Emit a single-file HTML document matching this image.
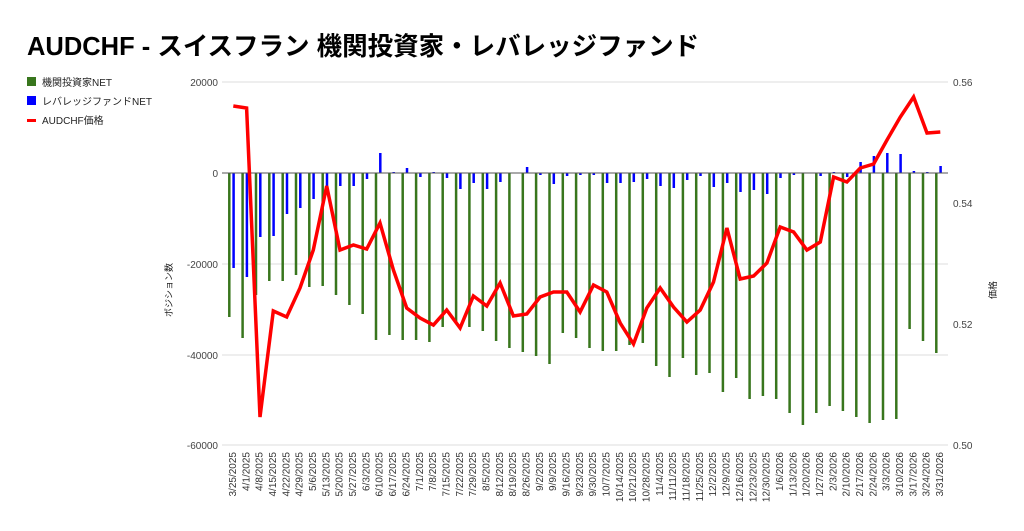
<!DOCTYPE html>
<html><head><meta charset="utf-8"><style>
body{margin:0;background:#fff;width:1024px;height:526px;overflow:hidden}
svg{font-family:"Liberation Sans","Noto Sans CJK JP",sans-serif}
</style></head><body>
<svg width="1024" height="526" xmlns="http://www.w3.org/2000/svg">
<text x="27" y="55" font-size="25.5" font-weight="bold" fill="#000">AUDCHF - スイスフラン 機関投資家・レバレッジファンド</text>
<rect x="27" y="77" width="9" height="9" fill="#38761d"/><text x="42" y="86" font-size="10" fill="#222">機関投資家NET</text>
<rect x="27" y="96" width="9" height="9" fill="#0000ff"/><text x="42" y="105" font-size="10" fill="#222">レバレッジファンドNET</text>
<rect x="27" y="119" width="9" height="3" fill="#ff0000"/><text x="42" y="124" font-size="10" fill="#222">AUDCHF価格</text>
<g stroke="#ddd" stroke-width="1">
<line x1="222" y1="82" x2="948" y2="82"/><line x1="222" y1="264" x2="948" y2="264"/><line x1="222" y1="355" x2="948" y2="355"/><line x1="222" y1="445" x2="948" y2="445"/>
</g>
<g font-size="10" fill="#444" text-anchor="end">
<text x="218" y="86">20000</text><text x="218" y="177">0</text><text x="218" y="268">-20000</text><text x="218" y="359">-40000</text><text x="218" y="449">-60000</text>
</g>
<g font-size="10" fill="#444">
<text x="953" y="86">0.56</text><text x="953" y="207">0.54</text><text x="953" y="328">0.52</text><text x="953" y="449">0.50</text>
</g>
<text transform="translate(172,290) rotate(-90)" font-size="9" fill="#222" text-anchor="middle">ポジション数</text>
<text transform="translate(996,290) rotate(-90)" font-size="9" fill="#222" text-anchor="middle">価格</text>
<g stroke="#38761d" stroke-width="2.5">
<line x1="229.3" y1="173" x2="229.3" y2="317"/><line x1="242.6" y1="173" x2="242.6" y2="338"/><line x1="256.0" y1="173" x2="256.0" y2="295"/><line x1="269.3" y1="173" x2="269.3" y2="281"/><line x1="282.7" y1="173" x2="282.7" y2="281"/><line x1="296.0" y1="173" x2="296.0" y2="275"/><line x1="309.3" y1="173" x2="309.3" y2="287"/><line x1="322.7" y1="173" x2="322.7" y2="286"/><line x1="336.0" y1="173" x2="336.0" y2="295"/><line x1="349.4" y1="173" x2="349.4" y2="305"/><line x1="362.7" y1="173" x2="362.7" y2="314"/><line x1="376.0" y1="173" x2="376.0" y2="340"/><line x1="389.4" y1="173" x2="389.4" y2="335"/><line x1="402.7" y1="173" x2="402.7" y2="340"/><line x1="416.1" y1="173" x2="416.1" y2="340"/><line x1="429.4" y1="173" x2="429.4" y2="342"/><line x1="442.7" y1="173" x2="442.7" y2="327"/><line x1="456.1" y1="173" x2="456.1" y2="323"/><line x1="469.4" y1="173" x2="469.4" y2="327"/><line x1="482.8" y1="173" x2="482.8" y2="331"/><line x1="496.1" y1="173" x2="496.1" y2="341"/><line x1="509.4" y1="173" x2="509.4" y2="348"/><line x1="522.8" y1="173" x2="522.8" y2="352"/><line x1="536.1" y1="173" x2="536.1" y2="356"/><line x1="549.5" y1="173" x2="549.5" y2="364"/><line x1="562.8" y1="173" x2="562.8" y2="333"/><line x1="576.1" y1="173" x2="576.1" y2="338"/><line x1="589.5" y1="173" x2="589.5" y2="348"/><line x1="602.8" y1="173" x2="602.8" y2="351"/><line x1="616.2" y1="173" x2="616.2" y2="351"/><line x1="629.5" y1="173" x2="629.5" y2="345"/><line x1="642.8" y1="173" x2="642.8" y2="343"/><line x1="656.2" y1="173" x2="656.2" y2="366"/><line x1="669.5" y1="173" x2="669.5" y2="377"/><line x1="682.9" y1="173" x2="682.9" y2="358"/><line x1="696.2" y1="173" x2="696.2" y2="375"/><line x1="709.5" y1="173" x2="709.5" y2="373"/><line x1="722.9" y1="173" x2="722.9" y2="392"/><line x1="736.2" y1="173" x2="736.2" y2="378"/><line x1="749.6" y1="173" x2="749.6" y2="399"/><line x1="762.9" y1="173" x2="762.9" y2="396"/><line x1="776.2" y1="173" x2="776.2" y2="399"/><line x1="789.6" y1="173" x2="789.6" y2="413"/><line x1="802.9" y1="173" x2="802.9" y2="425"/><line x1="816.3" y1="173" x2="816.3" y2="413"/><line x1="829.6" y1="173" x2="829.6" y2="406"/><line x1="842.9" y1="173" x2="842.9" y2="411"/><line x1="856.3" y1="173" x2="856.3" y2="417"/><line x1="869.6" y1="173" x2="869.6" y2="423"/><line x1="883.0" y1="173" x2="883.0" y2="420"/><line x1="896.3" y1="173" x2="896.3" y2="419"/><line x1="909.6" y1="173" x2="909.6" y2="329"/><line x1="923.0" y1="173" x2="923.0" y2="341"/><line x1="936.3" y1="173" x2="936.3" y2="353"/>
</g>
<g stroke="#0000ff" stroke-width="2.5">
<line x1="233.6" y1="173" x2="233.6" y2="268"/><line x1="246.9" y1="173" x2="246.9" y2="277"/><line x1="260.3" y1="173" x2="260.3" y2="237"/><line x1="273.6" y1="173" x2="273.6" y2="236"/><line x1="287.0" y1="173" x2="287.0" y2="214"/><line x1="300.3" y1="173" x2="300.3" y2="208"/><line x1="313.6" y1="173" x2="313.6" y2="199"/><line x1="327.0" y1="173" x2="327.0" y2="187"/><line x1="340.3" y1="173" x2="340.3" y2="186"/><line x1="353.7" y1="173" x2="353.7" y2="186"/><line x1="367.0" y1="173" x2="367.0" y2="179"/><line x1="380.3" y1="173" x2="380.3" y2="153"/><line x1="393.7" y1="173" x2="393.7" y2="172"/><line x1="407.0" y1="173" x2="407.0" y2="168"/><line x1="420.4" y1="173" x2="420.4" y2="177"/><line x1="433.7" y1="173" x2="433.7" y2="172"/><line x1="447.0" y1="173" x2="447.0" y2="178"/><line x1="460.4" y1="173" x2="460.4" y2="189"/><line x1="473.7" y1="173" x2="473.7" y2="183"/><line x1="487.1" y1="173" x2="487.1" y2="189"/><line x1="500.4" y1="173" x2="500.4" y2="182"/><line x1="527.1" y1="173" x2="527.1" y2="167"/><line x1="540.4" y1="173" x2="540.4" y2="175"/><line x1="553.8" y1="173" x2="553.8" y2="184"/><line x1="567.1" y1="173" x2="567.1" y2="176"/><line x1="580.4" y1="173" x2="580.4" y2="175"/><line x1="593.8" y1="173" x2="593.8" y2="175"/><line x1="607.1" y1="173" x2="607.1" y2="183"/><line x1="620.5" y1="173" x2="620.5" y2="183"/><line x1="633.8" y1="173" x2="633.8" y2="182"/><line x1="647.1" y1="173" x2="647.1" y2="179"/><line x1="660.5" y1="173" x2="660.5" y2="186"/><line x1="673.8" y1="173" x2="673.8" y2="188"/><line x1="687.2" y1="173" x2="687.2" y2="180"/><line x1="700.5" y1="173" x2="700.5" y2="176"/><line x1="713.8" y1="173" x2="713.8" y2="187"/><line x1="727.2" y1="173" x2="727.2" y2="183"/><line x1="740.5" y1="173" x2="740.5" y2="192"/><line x1="753.9" y1="173" x2="753.9" y2="190"/><line x1="767.2" y1="173" x2="767.2" y2="194"/><line x1="780.5" y1="173" x2="780.5" y2="178"/><line x1="793.9" y1="173" x2="793.9" y2="175"/><line x1="820.6" y1="173" x2="820.6" y2="176"/><line x1="833.9" y1="173" x2="833.9" y2="172"/><line x1="847.2" y1="173" x2="847.2" y2="177"/><line x1="860.6" y1="173" x2="860.6" y2="162"/><line x1="873.9" y1="173" x2="873.9" y2="156"/><line x1="887.3" y1="173" x2="887.3" y2="153"/><line x1="900.6" y1="173" x2="900.6" y2="154"/><line x1="913.9" y1="173" x2="913.9" y2="171"/><line x1="927.3" y1="173" x2="927.3" y2="172"/><line x1="940.6" y1="173" x2="940.6" y2="166"/>
</g>
<line x1="222" y1="173" x2="948" y2="173" stroke="#555" stroke-width="1"/>
<polyline fill="none" stroke="#ff0000" stroke-width="3.5" stroke-linejoin="miter" points="233.3,106 246.6,108 260.0,417 273.3,311 286.7,317 300.0,288 313.3,250 326.7,186 340.0,250 353.4,245 366.7,249 380.0,223 393.4,270 406.7,308 420.1,318 433.4,325 446.7,310 460.1,328 473.4,296 486.8,306 500.1,283 513.4,316 526.8,314 540.1,297 553.5,292 566.8,292 580.1,312 593.5,285 606.8,292 620.2,323 633.5,344 646.8,308 660.2,288 673.5,307 686.9,322 700.2,310 713.5,282 726.9,228 740.2,279 753.6,276 766.9,263 780.2,227 793.6,232 806.9,250 820.3,242 833.6,177 846.9,182 860.3,168 873.6,164 887.0,140 900.3,117 913.6,97 927.0,133 940.3,132"/>
<g font-size="10" fill="#333" text-anchor="end">
<text transform="translate(236,452) rotate(-90)">3/25/2025</text><text transform="translate(249.3,452) rotate(-90)">4/1/2025</text><text transform="translate(262.7,452) rotate(-90)">4/8/2025</text><text transform="translate(276,452) rotate(-90)">4/15/2025</text><text transform="translate(289.4,452) rotate(-90)">4/22/2025</text><text transform="translate(302.7,452) rotate(-90)">4/29/2025</text><text transform="translate(316,452) rotate(-90)">5/6/2025</text><text transform="translate(329.4,452) rotate(-90)">5/13/2025</text><text transform="translate(342.7,452) rotate(-90)">5/20/2025</text><text transform="translate(356.1,452) rotate(-90)">5/27/2025</text><text transform="translate(369.4,452) rotate(-90)">6/3/2025</text><text transform="translate(382.7,452) rotate(-90)">6/10/2025</text><text transform="translate(396.1,452) rotate(-90)">6/17/2025</text><text transform="translate(409.4,452) rotate(-90)">6/24/2025</text><text transform="translate(422.8,452) rotate(-90)">7/1/2025</text><text transform="translate(436.1,452) rotate(-90)">7/8/2025</text><text transform="translate(449.4,452) rotate(-90)">7/15/2025</text><text transform="translate(462.8,452) rotate(-90)">7/22/2025</text><text transform="translate(476.1,452) rotate(-90)">7/29/2025</text><text transform="translate(489.5,452) rotate(-90)">8/5/2025</text><text transform="translate(502.8,452) rotate(-90)">8/12/2025</text><text transform="translate(516.1,452) rotate(-90)">8/19/2025</text><text transform="translate(529.5,452) rotate(-90)">8/26/2025</text><text transform="translate(542.8,452) rotate(-90)">9/2/2025</text><text transform="translate(556.2,452) rotate(-90)">9/9/2025</text><text transform="translate(569.5,452) rotate(-90)">9/16/2025</text><text transform="translate(582.8,452) rotate(-90)">9/23/2025</text><text transform="translate(596.2,452) rotate(-90)">9/30/2025</text><text transform="translate(609.5,452) rotate(-90)">10/7/2025</text><text transform="translate(622.9,452) rotate(-90)">10/14/2025</text><text transform="translate(636.2,452) rotate(-90)">10/21/2025</text><text transform="translate(649.5,452) rotate(-90)">10/28/2025</text><text transform="translate(662.9,452) rotate(-90)">11/4/2025</text><text transform="translate(676.2,452) rotate(-90)">11/11/2025</text><text transform="translate(689.6,452) rotate(-90)">11/18/2025</text><text transform="translate(702.9,452) rotate(-90)">11/25/2025</text><text transform="translate(716.2,452) rotate(-90)">12/2/2025</text><text transform="translate(729.6,452) rotate(-90)">12/9/2025</text><text transform="translate(742.9,452) rotate(-90)">12/16/2025</text><text transform="translate(756.3,452) rotate(-90)">12/23/2025</text><text transform="translate(769.6,452) rotate(-90)">12/30/2025</text><text transform="translate(782.9,452) rotate(-90)">1/6/2026</text><text transform="translate(796.3,452) rotate(-90)">1/13/2026</text><text transform="translate(809.6,452) rotate(-90)">1/20/2026</text><text transform="translate(823,452) rotate(-90)">1/27/2026</text><text transform="translate(836.3,452) rotate(-90)">2/3/2026</text><text transform="translate(849.6,452) rotate(-90)">2/10/2026</text><text transform="translate(863,452) rotate(-90)">2/17/2026</text><text transform="translate(876.3,452) rotate(-90)">2/24/2026</text><text transform="translate(889.7,452) rotate(-90)">3/3/2026</text><text transform="translate(903,452) rotate(-90)">3/10/2026</text><text transform="translate(916.3,452) rotate(-90)">3/17/2026</text><text transform="translate(929.7,452) rotate(-90)">3/24/2026</text><text transform="translate(943,452) rotate(-90)">3/31/2026</text>
</g>
</svg>
</body></html>
